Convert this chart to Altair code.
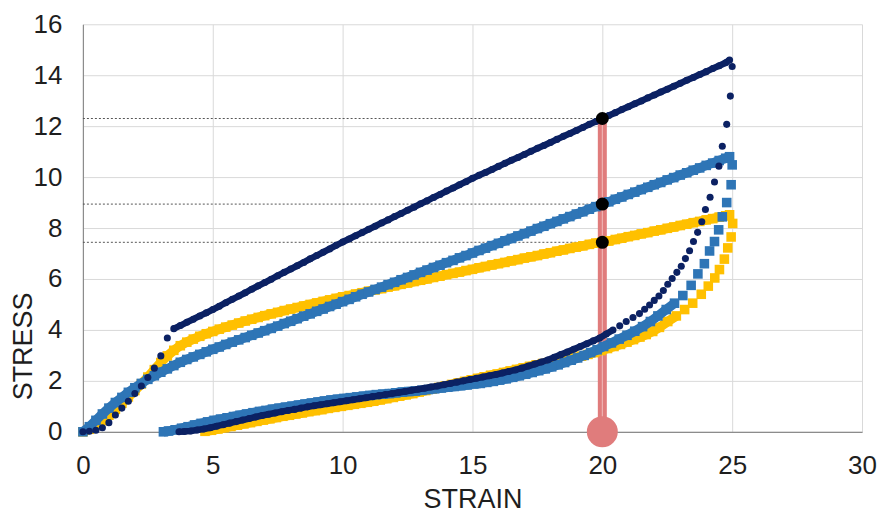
import altair as alt
import pandas as pd

# ---------------- data ----------------
LOAD_X = [0.0, 0.25, 0.5, 0.75, 1.0, 1.25, 1.5, 1.75, 2.0, 2.25, 2.5, 2.75, 3.0, 3.25, 3.5, 3.75,
          4.0, 4.25, 4.5, 4.75, 5.0, 5.25, 5.5, 5.75, 6.0, 6.25, 6.5, 6.75, 7.0, 7.25, 7.5, 7.75,
          8.0, 8.25, 8.5, 8.75, 9.0, 9.25, 9.5, 9.75, 10.0, 10.25, 10.5, 10.75, 11.0, 11.25, 11.5, 11.75,
          12.0, 12.25, 12.5, 12.75, 13.0, 13.25, 13.5, 13.75, 14.0, 14.25, 14.5, 14.75, 15.0, 15.25, 15.5, 15.75,
          16.0, 16.25, 16.5, 16.75, 17.0, 17.25, 17.5, 17.75, 18.0, 18.25, 18.5, 18.75, 19.0, 19.25, 19.5, 19.75,
          20.0, 20.25, 20.5, 20.75, 21.0, 21.25, 21.5, 21.75, 22.0, 22.25, 22.5, 22.75, 23.0, 23.25, 23.5, 23.75,
          24.0, 24.25, 24.5, 24.75, 24.9]

NAVY_LOAD_Y = [0.0, 0.02, 0.06, 0.16, 0.36, 0.66, 0.93, 1.2, 1.5, 1.8, 2.13, 2.5, 2.98, 3.68, 4.05, 4.17,
               4.3, 4.42, 4.55, 4.67, 4.8, 4.93, 5.07, 5.2, 5.33, 5.46, 5.6, 5.73, 5.86, 5.99, 6.13, 6.26,
               6.39, 6.52, 6.65, 6.79, 6.92, 7.05, 7.18, 7.32, 7.45, 7.57, 7.7, 7.82, 7.95, 8.07, 8.2, 8.32,
               8.45, 8.57, 8.7, 8.82, 8.95, 9.07, 9.2, 9.32, 9.45, 9.57, 9.7, 9.82, 9.95, 10.07, 10.18, 10.3,
               10.42, 10.54, 10.66, 10.77, 10.89, 11.01, 11.13, 11.24, 11.36, 11.48, 11.6, 11.71, 11.83, 11.95, 12.07, 12.18,
               12.3, 12.42, 12.53, 12.65, 12.76, 12.88, 12.99, 13.11, 13.22, 13.34, 13.45, 13.57, 13.68, 13.8, 13.91, 14.03,
               14.14, 14.26, 14.37, 14.49, 14.6]

BLUE_LOAD_Y = [0.0, 0.2, 0.45, 0.7, 0.93, 1.15, 1.35, 1.55, 1.73, 1.9, 2.06, 2.2, 2.34, 2.47, 2.6, 2.73,
               2.84, 2.94, 3.04, 3.14, 3.24, 3.33, 3.43, 3.52, 3.61, 3.7, 3.79, 3.88, 3.97, 4.06, 4.15, 4.25,
               4.34, 4.44, 4.54, 4.63, 4.73, 4.82, 4.92, 5.01, 5.11, 5.2, 5.3, 5.4, 5.49, 5.59, 5.68, 5.78,
               5.87, 5.97, 6.06, 6.16, 6.26, 6.35, 6.45, 6.54, 6.64, 6.73, 6.83, 6.92, 7.02, 7.12, 7.21, 7.31,
               7.4, 7.5, 7.59, 7.69, 7.78, 7.88, 7.98, 8.07, 8.17, 8.26, 8.36, 8.45, 8.55, 8.64, 8.74, 8.84,
               8.94, 9.03, 9.13, 9.22, 9.32, 9.41, 9.51, 9.6, 9.7, 9.79, 9.89, 9.98, 10.08, 10.17, 10.27, 10.36,
               10.46, 10.55, 10.65, 10.74, 10.8]

GOLD_LOAD_Y = [0.0, 0.1, 0.25, 0.44, 0.65, 0.88, 1.12, 1.37, 1.62, 1.88, 2.15, 2.44, 2.72, 2.98, 3.2, 3.38,
               3.52, 3.64, 3.75, 3.85, 3.94, 4.03, 4.11, 4.19, 4.27, 4.35, 4.42, 4.49, 4.56, 4.63, 4.69, 4.76,
               4.82, 4.88, 4.94, 5.0, 5.06, 5.12, 5.18, 5.24, 5.3, 5.35, 5.41, 5.46, 5.52, 5.57, 5.62, 5.68,
               5.73, 5.79, 5.84, 5.9, 5.95, 6.0, 6.06, 6.11, 6.17, 6.22, 6.27, 6.33, 6.38, 6.44, 6.49, 6.55,
               6.6, 6.65, 6.71, 6.76, 6.82, 6.87, 6.92, 6.98, 7.03, 7.09, 7.14, 7.2, 7.25, 7.3, 7.36, 7.41,
               7.44, 7.49, 7.55, 7.6, 7.66, 7.71, 7.77, 7.82, 7.88, 7.93, 7.99, 8.04, 8.1, 8.15, 8.21, 8.26,
               8.32, 8.37, 8.43, 8.48, 8.52]

NAVY_UNLOAD_X = [25.0, 24.93, 24.79, 24.62, 24.49, 24.32, 24.15, 23.97, 23.83, 23.67, 23.51, 23.36, 23.2, 23.04,
                 22.87, 22.69, 22.52, 22.35, 22.18, 22.0, 21.82, 21.63, 21.43, 21.18, 20.92, 20.67, 20.41, 20.15,
                 19.9, 19.65, 19.4, 19.15, 18.9, 18.65, 18.4, 18.15, 17.9, 17.65, 17.4, 17.15, 16.9, 16.65, 16.4,
                 16.15, 15.9, 15.65, 15.4, 15.15, 14.9, 14.65, 14.4, 14.15, 13.9, 13.65, 13.4, 13.15, 12.9, 12.65,
                 12.4, 12.15, 11.9, 11.65, 11.4, 11.15, 10.9, 10.65, 10.4, 10.15, 9.9, 9.65, 9.4, 9.15, 8.9, 8.65,
                 8.4, 8.15, 7.9, 7.65, 7.4, 7.15, 6.9, 6.65, 6.4, 6.15, 5.9, 5.65, 5.4, 5.15, 4.9, 4.65, 4.4, 4.15,
                 3.9, 3.7]
NAVY_UNLOAD_Y = [14.34, 13.18, 12.07, 11.21, 10.43, 9.81, 9.21, 8.73, 8.25, 7.83, 7.47, 7.11, 6.8, 6.5,
                 6.26, 6.02, 5.79, 5.55, 5.33, 5.16, 4.98, 4.81, 4.64, 4.49, 4.33, 4.16, 4.0, 3.84,
                 3.68, 3.57, 3.46, 3.35, 3.24, 3.13, 3.03, 2.93, 2.82, 2.74, 2.66, 2.58, 2.5, 2.43, 2.37,
                 2.31, 2.25, 2.2, 2.15, 2.1, 2.05, 2.0, 1.95, 1.9, 1.85, 1.8, 1.76, 1.71, 1.67, 1.63,
                 1.58, 1.54, 1.5, 1.46, 1.42, 1.38, 1.34, 1.3, 1.26, 1.22, 1.18, 1.14, 1.1, 1.06, 1.02, 0.98,
                 0.93, 0.88, 0.84, 0.79, 0.74, 0.69, 0.64, 0.58, 0.52, 0.46, 0.4, 0.34, 0.28, 0.22, 0.16, 0.11, 0.07, 0.03,
                 0.01, 0.0]

BLUE_UNLOAD_X = [25.0, 24.96, 24.79, 24.62, 24.48, 24.32, 24.13, 23.93, 23.68, 23.42, 23.1, 22.78, 22.46, 22.14,
                 21.85, 21.55, 21.25, 20.95, 20.65, 20.35, 20.05, 19.8, 19.55, 19.3, 19.05, 18.8, 18.55, 18.3,
                 18.05, 17.8, 17.55, 17.3, 17.05, 16.8, 16.55, 16.3, 16.05, 15.8, 15.55, 15.3, 15.05, 14.8, 14.55,
                 14.3, 14.05, 13.8, 13.55, 13.3, 13.05, 12.8, 12.55, 12.3, 12.05, 11.8, 11.55, 11.3, 11.05, 10.8,
                 10.55, 10.3, 10.05, 9.8, 9.55, 9.3, 9.05, 8.8, 8.55, 8.3, 8.05, 7.8, 7.55, 7.3, 7.05, 6.8, 6.55,
                 6.3, 6.05, 5.8, 5.55, 5.3, 5.05, 4.8, 4.55, 4.3, 4.05, 3.8, 3.55, 3.3, 3.1]
BLUE_UNLOAD_Y = [10.48, 9.7, 9.0, 8.44, 7.93, 7.47, 7.1, 6.6, 6.2, 5.75, 5.35, 5.05, 4.8, 4.55,
                 4.33, 4.13, 3.95, 3.79, 3.64, 3.49, 3.35, 3.22, 3.11, 3.0, 2.9, 2.81, 2.72, 2.63,
                 2.55, 2.47, 2.4, 2.33, 2.26, 2.2, 2.14, 2.08, 2.03, 1.98, 1.94, 1.9, 1.88, 1.84, 1.81,
                 1.78, 1.75, 1.72, 1.69, 1.66, 1.63, 1.6, 1.58, 1.56, 1.53, 1.5, 1.48, 1.46, 1.43, 1.4,
                 1.37, 1.34, 1.31, 1.28, 1.25, 1.21, 1.17, 1.13, 1.09, 1.05, 1.01, 0.97, 0.93, 0.89, 0.84, 0.8, 0.75,
                 0.7, 0.65, 0.6, 0.55, 0.5, 0.45, 0.39, 0.33, 0.27, 0.2, 0.14, 0.08, 0.03, 0.0]

GOLD_UNLOAD_X = [25.02, 24.96, 24.83, 24.7, 24.51, 24.33, 24.08, 23.81, 23.48, 23.17, 22.85, 22.52, 22.2, 21.94,
                 21.69, 21.45, 21.2, 20.95, 20.7, 20.45, 20.2, 19.95, 19.7, 19.45, 19.2, 18.95, 18.7, 18.45,
                 18.2, 17.95, 17.7, 17.45, 17.2, 16.95, 16.7, 16.45, 16.2, 15.95, 15.7, 15.45, 15.2, 14.95, 14.7,
                 14.45, 14.2, 13.95, 13.7, 13.45, 13.2, 12.95, 12.7, 12.45, 12.2, 11.95, 11.7, 11.45, 11.2, 10.95,
                 10.7, 10.45, 10.2, 9.95, 9.7, 9.45, 9.2, 8.95, 8.7, 8.45, 8.2, 7.95, 7.7, 7.45, 7.2, 6.95, 6.7,
                 6.45, 6.2, 5.95, 5.7, 5.45, 5.2, 4.95, 4.7]
GOLD_UNLOAD_Y = [8.18, 7.65, 7.22, 6.78, 6.37, 6.04, 5.72, 5.4, 5.05, 4.8, 4.55, 4.33, 4.1, 3.94,
                 3.82, 3.72, 3.62, 3.52, 3.43, 3.35, 3.27, 3.19, 3.11, 3.04, 2.97, 2.91, 2.86, 2.81,
                 2.76, 2.72, 2.68, 2.63, 2.57, 2.51, 2.45, 2.39, 2.33, 2.27, 2.22, 2.16, 2.1, 2.04, 1.98,
                 1.92, 1.86, 1.8, 1.74, 1.68, 1.62, 1.56, 1.5, 1.45, 1.4, 1.35, 1.3, 1.25, 1.2, 1.16,
                 1.12, 1.08, 1.04, 1.0, 0.96, 0.92, 0.87, 0.83, 0.79, 0.74, 0.7, 0.65, 0.61, 0.56, 0.51, 0.46, 0.41,
                 0.36, 0.31, 0.26, 0.21, 0.16, 0.11, 0.06, 0.02]

MARK_STRAIN = 20
MARK_STRESS = [12.3, 8.94, 7.44]

X_TICKS = [0, 5, 10, 15, 20, 25, 30]
Y_TICKS = [0, 2, 4, 6, 8, 10, 12, 14, 16]

NAVY = "#0B2163"
BLUE = "#2E75B6"
GOLD = "#FFC000"
PINK = "#E07C7C"


def branches(ly, ux, uy):
    assert len(LOAD_X) == len(ly), (len(LOAD_X), len(ly))
    assert len(ux) == len(uy), (len(ux), len(uy))
    load = pd.DataFrame({"strain": LOAD_X, "stress": ly, "seg": "load"})
    unload = pd.DataFrame({"strain": ux, "stress": uy, "seg": "unload"})
    pts = pd.concat([load, unload], ignore_index=True)
    pts["i"] = range(len(pts))
    return load, unload, pts


# where the markers overlap into a solid band (style only)
nl, nu, navy_pts = branches(NAVY_LOAD_Y, NAVY_UNLOAD_X, NAVY_UNLOAD_Y)
bl, bu, blue_pts = branches(BLUE_LOAD_Y, BLUE_UNLOAD_X, BLUE_UNLOAD_Y)
gl, gu, gold_pts = branches(GOLD_LOAD_Y, GOLD_UNLOAD_X, GOLD_UNLOAD_Y)

navy_band = pd.concat([nl[nl.strain >= 3.5], nu[nu.strain <= 20.5]], ignore_index=True)
blue_band = pd.concat([bl, bu[bu.strain <= 23.0]], ignore_index=True)
gold_band = pd.concat([gl, gu[gu.strain <= 23.0]], ignore_index=True)
for d in (navy_band, blue_band, gold_band):
    d["i"] = range(len(d))

marks_df = pd.DataFrame({"strain": [MARK_STRAIN] * len(MARK_STRESS), "stress": MARK_STRESS,
                         "start": [0] * len(MARK_STRESS)})
bar_df = pd.DataFrame({"strain": [MARK_STRAIN], "stress": [0], "top": [max(MARK_STRESS)]})

FONT = "Liberation Sans"

x_axis = alt.Axis(title="STRAIN", values=X_TICKS, grid=True, gridColor="#D9D9D9", gridWidth=1,
                  domainColor="#8C8C8C", domainWidth=1.2, ticks=False, tickSize=0,
                  labelPadding=21, labelFontSize=26, labelFont=FONT, labelColor="#1E1E1E",
                  titleFont=FONT, titleFontSize=27, titleFontWeight="normal", titleColor="#1E1E1E",
                  titleY=68, titleBaseline="middle", labelFlush=False)
y_axis = alt.Axis(title="STRESS", values=Y_TICKS, grid=True, gridColor="#D9D9D9", gridWidth=1,
                  domainColor="#8C8C8C", domainWidth=1.2, ticks=False, tickSize=0,
                  labelPadding=21, labelFontSize=26, labelFont=FONT, labelColor="#1E1E1E",
                  titleFont=FONT, titleFontSize=27, titleFontWeight="normal", titleColor="#1E1E1E",
                  titleX=-59, titleY=322, titleAngle=270, titleAlign="center", titleBaseline="middle",
                  labelFlush=False)

xs = alt.Scale(domain=[0, 30], nice=False)
ys = alt.Scale(domain=[0, 16], nice=False)
X = alt.X("strain:Q", scale=xs, axis=x_axis)
Y = alt.Y("stress:Q", scale=ys, axis=y_axis)

dotted = alt.Chart(marks_df).mark_rule(color="#555555", strokeWidth=1, strokeDash=[2, 2]).encode(
    x=alt.X("start:Q", scale=xs, axis=x_axis), x2="strain:Q", y=Y)

bar = alt.Chart(bar_df).mark_rule(color=PINK, strokeWidth=9).encode(x=X, y=Y, y2="top:Q")
bar_line = alt.Chart(bar_df).mark_rule(color="#F2BDBD", strokeWidth=1).encode(x=X, y=Y, y2="top:Q")
bubble = alt.Chart(bar_df).mark_circle(color=PINK, size=960, opacity=1).encode(x=X, y=Y)


def band(df, color, width):
    return alt.Chart(df).mark_line(color=color, strokeWidth=width, strokeCap="butt",
                                   strokeJoin="round").encode(
        x=X, y=Y, detail="seg:N", order="i:Q")


gold = alt.Chart(gold_pts).mark_point(shape="square", filled=True, size=92, color=GOLD, opacity=1).encode(x=X, y=Y)
blue = alt.Chart(blue_pts).mark_point(shape="square", filled=True, size=92, color=BLUE, opacity=1).encode(x=X, y=Y)
navy = alt.Chart(navy_pts).mark_circle(size=50, color=NAVY, opacity=1).encode(x=X, y=Y)

dots = alt.Chart(marks_df).mark_circle(size=170, color="#000000", opacity=1).encode(x=X, y=Y)

chart = alt.layer(
    dotted, bar, bar_line, bubble,
    band(gold_band, GOLD, 9.5), gold,
    band(blue_band, BLUE, 9.5), blue,
    band(navy_band, NAVY, 6.5), navy,
    dots,
).properties(
    width=780, height=408,
    autosize=alt.AutoSizeParams(type="none"),
    padding={"left": 75, "top": 16, "right": 20, "bottom": 85},
).configure_view(stroke=None)

chart.save("out.html", embed_options={"renderer": "svg", "actions": False})
